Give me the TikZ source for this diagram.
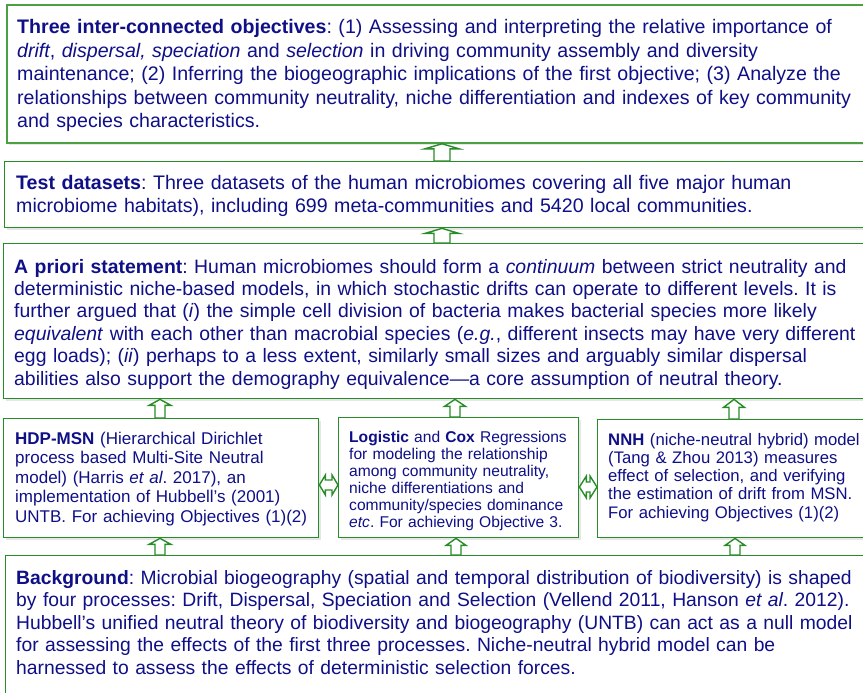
\documentclass[tikz,border=0pt]{standalone}
\usepackage{fontspec}
\setmainfont{Liberation Sans}
\usetikzlibrary{calc,shadows}
\definecolor{boxgreen}{RGB}{40,140,40}
\definecolor{topgreen}{RGB}{75,160,65}
\definecolor{inkblue}{RGB}{15,15,135}
\frenchspacing

% hollow block arrow: from node #1 up to node #2 at x=#3
% (#4 half shaft, #5 half head, #6 head length)
\newcommand{\uparr}[6]{%
  \draw[blk] let \p1=(#1.north), \p2=(#2.south) in
    ({#3pt-#4pt},\y1) -- ({#3pt-#4pt},{\y2-#6pt}) -- ({#3pt-#5pt},{\y2-#6pt})
    -- (#3pt,\y2) -- ({#3pt+#5pt},{\y2-#6pt}) -- ({#3pt+#4pt},{\y2-#6pt})
    -- ({#3pt+#4pt},\y1) -- cycle;}
% hollow double arrow between node #1 (left) and node #2 (right) at y=#3
\newcommand{\twoarr}[6]{%
  \draw[blk] let \p1=(#1.east), \p2=(#2.west) in
    (\x1,{-#3pt}) -- ({\x1+#6pt},{-#3pt+#5pt}) -- ({\x1+#6pt},{-#3pt+#4pt})
    -- ({\x2-#6pt},{-#3pt+#4pt}) -- ({\x2-#6pt},{-#3pt+#5pt}) -- (\x2,{-#3pt})
    -- ({\x2-#6pt},{-#3pt-#5pt}) -- ({\x2-#6pt},{-#3pt-#4pt})
    -- ({\x1+#6pt},{-#3pt-#4pt}) -- ({\x1+#6pt},{-#3pt-#5pt}) -- cycle;}

\begin{document}
\begin{tikzpicture}[x=1pt, y=-1pt,
  box/.style={rectangle, draw=boxgreen, line width=1.4pt, fill=white, inner sep=0pt,
    anchor=north west, drop shadow={shadow xshift=2pt, shadow yshift=-2pt, opacity=0.2}},
  txt/.style={anchor=base west, inner sep=0pt, text=inkblue, text width=880pt, align=left},
  big/.style={font=\fontsize{19.6}{23}\selectfont},
  blk/.style={draw=boxgreen, line width=1.4pt, fill=white}]
\useasboundingbox (0,0) rectangle (863,693);
% Boxes
\node[box, draw=topgreen, line width=1.8pt, minimum width=884pt, minimum height=138pt] (obj) at (6,4) {};
\node[box, minimum width=886pt, minimum height=66pt] (data) at (4,161) {};
\node[box, minimum width=887pt, minimum height=155pt] (prior) at (3,243) {};
\node[box, minimum width=315pt, minimum height=119pt] (hdp) at (3,418) {};
\node[box, minimum width=240pt, minimum height=120pt] (logi) at (338,417) {};
\node[box, minimum width=293pt, minimum height=118pt] (nnh) at (597,419) {};
\node[box, minimum width=885pt, minimum height=165pt] (bg) at (5,555) {};
% Texts
\node[txt, font=\fontsize{19.6}{23.5}\selectfont] (objtxt) at (17,34)
  {\textbf{Three inter-connected objectives}: (1) Assessing and interpreting the relative importance of\\
   \textit{drift}, \textit{dispersal, speciation} and \textit{selection} in driving community assembly and diversity\\
   maintenance; (2) Inferring the biogeographic implications of the first objective; (3) Analyze the\\
   relationships between community neutrality, niche differentiation and indexes of key community\\
   and species characteristics.};
\node[txt, big] (datatxt) at (16,189)
  {\textbf{Test datasets}: Three datasets of the human microbiomes covering all five major human\\
   microbiome habitats), including 699 meta-communities and 5420 local communities.};
\node[txt, font=\fontsize{19.4}{22.4}\selectfont] (priortxt) at (14,273)
  {\textbf{A priori statement}: Human microbiomes should form a \textit{continuum} between strict neutrality and\\
   deterministic niche-based models, in which stochastic drifts can operate to different levels. It is\\
   further argued that (\textit{i}) the simple cell division of bacteria makes bacterial species more likely\\
   \textit{equivalent} with each other than macrobial species (\textit{e.g.}, different insects may have very different\\
   egg loads); (\textit{ii}) perhaps to a less extent, similarly small sizes and arguably similar dispersal\\
   abilities also support the demography equivalence---a core assumption of neutral theory.};
\node[txt, font=\fontsize{17}{19.5}\selectfont] (hdptxt) at (15,444)
  {\textbf{HDP-MSN} (Hierarchical Dirichlet\\
   process based Multi-Site Neutral\\
   model) (Harris \textit{et al}. 2017), an\\
   implementation of Hubbell's (2001)\\
   UNTB. For achieving Objectives (1)(2)};
\node[txt, font=\fontsize{15.6}{17}\selectfont] (logitxt) at (349,442)
  {\textbf{Logistic} and \textbf{Cox} Regressions\\
   for modeling the relationship\\
   among community neutrality,\\
   niche differentiations and\\
   community/species dominance\\
   \textit{etc}. For achieving Objective 3.};
\node[txt, font=\fontsize{16.7}{18.3}\selectfont] (nnhtxt) at (608,445)
  {\textbf{NNH} (niche-neutral hybrid) model\\
   (Tang \& Zhou 2013) measures\\
   effect of selection, and verifying\\
   the estimation of drift from MSN.\\
   For achieving Objectives (1)(2)};
\node[txt, font=\fontsize{19.3}{22.5}\selectfont] (bgtxt) at (16,584)
  {\textbf{Background}: Microbial biogeography (spatial and temporal distribution of biodiversity) is shaped\\
   by four processes: Drift, Dispersal, Speciation and Selection (Vellend 2011, Hanson \textit{et al}. 2012).\\
   Hubbell's unified neutral theory of biodiversity and biogeography (UNTB) can act as a null model\\
   for assessing the effects of the first three processes. Niche-neutral hybrid model can be\\
   harnessed to assess the effects of deterministic selection forces.};
% Arrows
\uparr{data}{obj}{442}{8}{17}{5}
\uparr{prior}{data}{442}{8}{17}{5}
\uparr{hdp}{prior}{160}{5}{11}{6}
\uparr{logi}{prior}{455}{5}{10.5}{7}
\uparr{nnh}{prior}{734}{5}{10.5}{8}
\uparr{bg}{hdp}{160}{5}{11}{6}
\uparr{bg}{logi}{456}{5}{10}{7}
\uparr{bg}{nnh}{735}{5}{10}{7}
\twoarr{hdp}{logi}{485}{5}{10}{6}
\twoarr{logi}{nnh}{487}{5}{11}{7}
\end{tikzpicture}
\end{document}
